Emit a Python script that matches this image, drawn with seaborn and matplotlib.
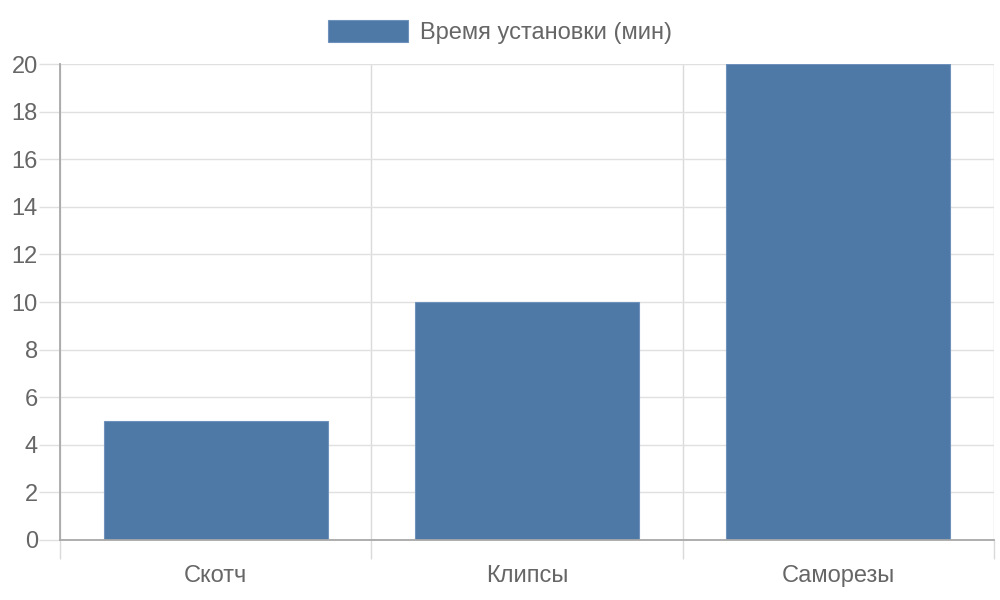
import pandas as pd
import matplotlib.pyplot as plt
import seaborn as sns
from matplotlib.ticker import FixedLocator

# chart data
categories = ['Скотч', 'Клипсы', 'Саморезы']
minutes = [5, 10, 20]
series_name = 'Время установки (мин)'
y_ticks = [0, 2, 4, 6, 8, 10, 12, 14, 16, 18, 20]

df = pd.DataFrame({'method': categories, 'minutes': minutes})

sns.set_style('white')
plt.rcParams['font.family'] = ['Liberation Sans', 'DejaVu Sans']

text_col = '#666666'
grid_col = '#e0e0e0'
axis_col = '#a8a8a8'
bar_col = '#4e79a7'

fig = plt.figure(figsize=(10, 6), dpi=100)
ax = fig.add_axes([0.06, 0.10, 0.934, 0.7933])

sns.barplot(data=df, x='method', y='minutes', color=bar_col, width=0.72,
            saturation=1, edgecolor='#6f92bd', linewidth=0.8, ax=ax,
            label=series_name, zorder=3)

ax.set_xlim(-0.5, 2.5)
ax.set_ylim(0, 20)
ax.set_yticks(y_ticks)
ax.set_xlabel('')
ax.set_ylabel('')

# horizontal grid
ax.yaxis.grid(True, color=grid_col, linewidth=1, zorder=0)
# vertical grid at category boundaries
bounds = [-0.5, 0.5, 1.5, 2.5]
ax.xaxis.set_minor_locator(FixedLocator(bounds))
ax.xaxis.grid(True, which='minor', color='#dadada', linewidth=1, zorder=0)
ax.xaxis.grid(False, which='major')

for side in ['top', 'right']:
    ax.spines[side].set_visible(False)
for side in ['left', 'bottom']:
    ax.spines[side].set_color(axis_col)
    ax.spines[side].set_linewidth(1.3)
    ax.spines[side].set_zorder(4)

ax.tick_params(axis='x', which='major', bottom=True, length=0, pad=18,
               labelsize=17, labelcolor=text_col)
ax.tick_params(axis='x', which='minor', bottom=True, length=13.5, width=1,
               color='#dadada')
ax.tick_params(axis='y', left=True, length=15, width=1, color=grid_col, pad=1,
               labelsize=17, labelcolor=text_col)

fig.legend(loc='center', bbox_to_anchor=(0.5, 0.947), frameon=False,
           fontsize=17, labelcolor=text_col, handlelength=3.4,
           handleheight=1.05, handletextpad=0.5)
if ax.get_legend() is not None:
    ax.get_legend().remove()

fig.savefig('out.png', dpi=100)
